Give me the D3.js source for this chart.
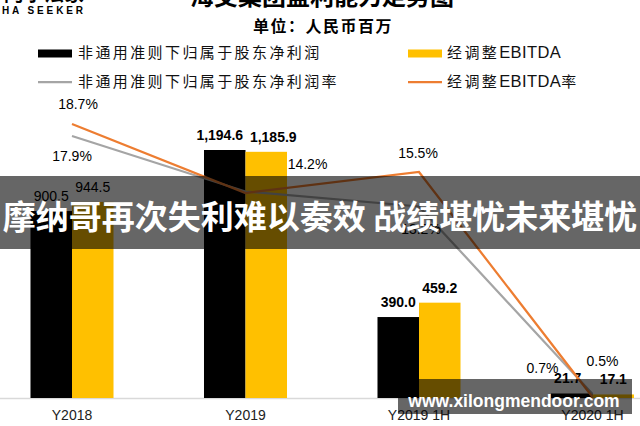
<!DOCTYPE html>
<html>
<head>
<meta charset="utf-8">
<script src="https://cdn.jsdelivr.net/npm/d3@7/dist/d3.min.js"></script>
<style>
  html, body { margin: 0; padding: 0; background: #fff; }
  svg { display: block; }
</style>
</head>
<body>
<svg id="chart" width="640" height="426"></svg>
<script>
// ---- data ----
const categories = ["Y2018", "Y2019", "Y2019 1H", "Y2020 1H"];
const netProfit = [900.5, 1194.6, 390.0, 21.7];        // 非通用准则下归属于股东净利润
const adjEbitda = [944.5, 1185.9, 459.2, 17.1];        // 经调整EBITDA
const netMargin = [17.9, 14.2, 13.2, 0.7];             // 净利润率 (%)
const ebitdaMargin = [18.7, 14.1, 15.5, 0.5];          // 经调整EBITDA率 (%)
const seriesNames = ["非通用准则下归属于股东净利润", "经调整EBITDA", "非通用准则下归属于股东净利润率", "经调整EBITDA率"];
const titleText = "海艾集团盈利能力走势图";
const unitText = "单位：人民币百万";
const bannerText = "摩纳哥再次失利难以奏效 战绩堪忧未来堪忧";
const watermarkText = "www.xilongmendoor.com";

// ---- layout / style ----
const W = 640, H = 426;
const colors = { net: "#000000", ebitda: "#FFC000", netRate: "#A5A5A5", ebitdaRate: "#ED7D31" };
const cjk = "'Noto Sans CJK SC', 'Noto Sans', sans-serif";
const latin = "'Liberation Sans', Arial, sans-serif";

const svg = d3.select("#chart");

const x = d3.scaleBand().domain(categories).range([-14.75, 679.25]).paddingInner(0).paddingOuter(0);
const xSub = d3.scaleBand().domain(["net", "ebitda"]).range([0, x.bandwidth()]).paddingInner(0).paddingOuter(1.09);
const yBar = d3.scaleLinear().domain([0, 1400]).range([398, 398 - 1400 * 0.2076]);
const yPct = d3.scaleLinear().domain([0, 20]).range([404.5, 104.5]);

const fmtNum = d3.format(",.1f");
const fmtPct = v => d3.format(".1f")(v) + "%";

// axis
const axis = svg.append("g").attr("transform", "translate(0,398)")
  .call(d3.axisBottom(x).tickSize(0).tickSizeOuter(0).tickPadding(12));
axis.select(".domain").attr("stroke", "#d9d9d9").attr("stroke-width", 1.5);
axis.selectAll("text").attr("font-family", latin).attr("font-size", 14).attr("fill", "#222");

// bars
const barData = [];
categories.forEach((c, i) => {
  barData.push({ c, key: "net", v: netProfit[i], i });
  barData.push({ c, key: "ebitda", v: adjEbitda[i], i });
});
svg.append("g").selectAll("rect").data(barData).join("rect")
  .attr("x", d => x(d.c) + xSub(d.key))
  .attr("y", d => yBar(d.v))
  .attr("width", xSub.bandwidth())
  .attr("height", d => yBar(0) - yBar(d.v))
  .attr("fill", d => d.key === "net" ? colors.net : colors.ebitda);

// bar labels (horizontal nudges so wide labels do not collide)
const netLabelDx = [0, -5, 0, -4];
const ebitdaLabelDx = [0, 7, 0, 0];
svg.append("g").selectAll("text").data(barData).join("text")
  .attr("x", d => x(d.c) + xSub(d.key) + xSub.bandwidth() / 2 + (d.key === "net" ? netLabelDx[d.i] : ebitdaLabelDx[d.i]))
  .attr("y", d => yBar(d.v) - 10)
  .attr("text-anchor", "middle")
  .attr("font-family", latin)
  .attr("font-size", 14)
  .attr("font-weight", d => d.i === 0 ? "normal" : "bold")
  .attr("fill", "#000")
  .text(d => fmtNum(d.v));

// lines
const cx = c => x(c) + x.bandwidth() / 2;
const line = d3.line().x((d, i) => cx(categories[i])).y(d => yPct(d));
svg.append("path").datum(netMargin).attr("d", line)
  .attr("fill", "none").attr("stroke", colors.netRate).attr("stroke-width", 2.25);
svg.append("path").datum(ebitdaMargin).attr("d", line)
  .attr("fill", "none").attr("stroke", colors.ebitdaRate).attr("stroke-width", 2.25);

// percentage labels (placement offsets relative to the point)
const netLabelOffset = [[0, 20], [62, -27], [2, 23], [-50, -26]];
const ebitdaLabelOffset = [[6, -20], null, [-1, -19], [10, -36]];
function pctLabels(values, offsets) {
  values.forEach((v, i) => {
    const o = offsets[i];
    if (!o) return;
    svg.append("text")
      .attr("x", cx(categories[i]) + o[0])
      .attr("y", yPct(v) + o[1])
      .attr("dy", "0.35em")
      .attr("text-anchor", "middle")
      .attr("font-family", latin)
      .attr("font-size", 14)
      .attr("fill", "#000")
      .text(fmtPct(v));
  });
}
pctLabels(netMargin, netLabelOffset);
pctLabels(ebitdaMargin, ebitdaLabelOffset);

// title (clipped at top), unit
svg.append("text").attr("x", 322).attr("y", 5).attr("text-anchor", "middle")
  .attr("font-family", cjk).attr("font-size", 24).attr("font-weight", "bold").attr("fill", "#000")
  .text(titleText);
svg.append("text").attr("x", 323).attr("y", 26).attr("dy", "0.35em").attr("text-anchor", "middle")
  .attr("font-family", cjk).attr("font-size", 16).attr("font-weight", "bold").attr("fill", "#000")
  .attr("letter-spacing", 1.5)
  .text(unitText);

// logo
svg.append("text").attr("x", 84).attr("y", 1).attr("text-anchor", "end")
  .attr("font-family", cjk).attr("font-size", 20).attr("font-weight", "bold").attr("fill", "#000")
  .text("阿尔法象");
svg.append("text").attr("x", 86).attr("y", 13.5).attr("text-anchor", "end")
  .attr("font-family", latin).attr("font-size", 10).attr("font-weight", "bold").attr("fill", "#000")
  .attr("letter-spacing", 2.9)
  .text("ALPHA SEEKER");

// legend
const legendItems = [
  { name: seriesNames[0], type: "rect", color: colors.net, sx: 38, tx: 78, y: 53 },
  { name: seriesNames[1], type: "rect", color: colors.ebitda, sx: 408, tx: 447, y: 53 },
  { name: seriesNames[2], type: "line", color: colors.netRate, sx: 38, tx: 78, y: 82 },
  { name: seriesNames[3], type: "line", color: colors.ebitdaRate, sx: 408, tx: 447, y: 82 }
];
const lg = svg.append("g");
legendItems.forEach(d => {
  if (d.type === "rect") {
    lg.append("rect").attr("x", d.sx).attr("y", d.y - 3.5).attr("width", 34).attr("height", 8).attr("fill", d.color);
  } else {
    lg.append("line").attr("x1", d.sx).attr("x2", d.sx + 34).attr("y1", d.y).attr("y2", d.y)
      .attr("stroke", d.color).attr("stroke-width", 2.25);
  }
  const t = lg.append("text").attr("x", d.tx).attr("y", d.y).attr("dy", "0.35em")
    .attr("font-family", cjk).attr("font-size", 15).attr("fill", "#111");
  // split into CJK and Latin runs so Latin letters are not over-spaced
  const runs = d.name.match(/[A-Za-z]+|[^A-Za-z]+/g);
  runs.forEach(r => {
    const latinRun = /^[A-Za-z]+$/.test(r);
    t.append("tspan")
      .attr("font-family", latinRun ? latin : cjk)
      .attr("font-size", latinRun ? 16.5 : 15)
      .attr("letter-spacing", latinRun ? 0.4 : 2.4)
      .text(r);
  });
});

// banner overlay
svg.append("rect").attr("x", 0).attr("y", 176).attr("width", W).attr("height", 73)
  .attr("fill", "rgba(0,0,0,0.6)");
svg.append("text").attr("x", 320).attr("y", 217).attr("dy", "0.35em").attr("text-anchor", "middle")
  .attr("font-family", cjk).attr("font-size", 33).attr("font-weight", "bold").attr("fill", "#fff")
  .text(bannerText);

// watermark overlay
svg.append("path")
  .attr("d", "M419,379 H632 V414 H398 V395 H419 Z")
  .attr("fill", "rgba(0,0,0,0.6)");
svg.append("text").attr("x", 514).attr("y", 401).attr("dy", "0.35em").attr("text-anchor", "middle")
  .attr("font-family", latin).attr("font-size", 17.5).attr("font-weight", "bold").attr("fill", "#fff")
  .text(watermarkText);
</script>
</body>
</html>
